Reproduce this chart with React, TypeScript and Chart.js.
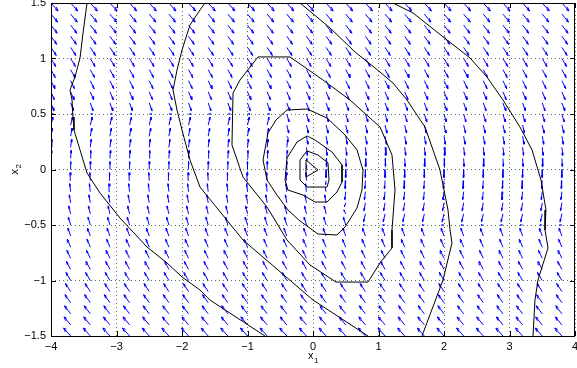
import React, { useEffect, useRef } from "react";
import { Chart, registerables } from "chart.js";

Chart.register(...registerables);

const FONT = '"Liberation Sans", Arial, Helvetica, sans-serif';

// quiver grid
const gridX = [-4, -3.7, -3.4, -3.1, -2.8, -2.5, -2.2, -1.9, -1.6, -1.3, -1, -0.7, -0.4, -0.1, 0.2, 0.5, 0.8, 1.1, 1.4, 1.7, 2, 2.3, 2.6, 2.9, 3.2, 3.5, 3.8];
const gridY = [1.5, 1.4, 1.3, 1.2, 1.1, 1, 0.9, 0.8, 0.7, 0.6, 0.5, 0.4, 0.3, 0.2, 0.1, 0, -0.1, -0.2, -0.3, -0.4, -0.5, -0.6, -0.7, -0.8, -0.9, -1, -1.1, -1.2, -1.3, -1.4, -1.5];
// horizontal component of the arrows, per row
const arrowU = [1.5, 1.4, 1.3, 1.2, 1.1, 1, 0.9, 0.8, 0.7, 0.6, 0.5, 0.4, 0.3, 0.2, 0.1, 0, -0.1, -0.2, -0.3, -0.4, -0.5, -0.6, -0.7, -0.8, -0.9, -1, -1.1, -1.2, -1.3, -1.4, -1.5];
// vertical component codes, one string per row, one char per column
const vCode: Record<string, number> = { D: -1, c: -0.75, d: -0.5, e: -0.25, "0": 0, f: 0.25, u: 0.5, v: 0.75, U: 1 };
const arrowVRows = [
  "DDDDDDDDDDDD DDDD DDDDDDDDDDD",
  "DDDDDDDDDDDD DDDD DDDDDDDDDDD",
  "DDDDDDDDDDDD DDDD DDDDDDDDDDD",
  "DDDDDDDDDDDD DDDD DDDDDDDDDDD",
  "DDDDDDDDDDDD DDDD DDDDDDDDDDD",
  "DDDDDDDDDDDD DDDD DDDDDDDDDDD",
  "DDDDDDDDDDDD DDDD DDDDDDDDDDD",
  "DDDDDDDDDDDD DDDD DDDDDDDDDDD",
  "DDDDDDDDDDDD DDDD DDDDDDDDDDD",
  "DDDDDDDDDDDD DDDD DDDDDDDDDDD",
  "000000000000 DDDD DDDDDDDDDDD",
  "UUUUUUUUUUUU DDDD DDDDDDDDDDD",
  "UUUUUUUUUUUU eDDD DDDDDDDDDDD",
  "UUUUUUUUUUUU UDDD DDDDDDDDDDD",
  "UUUUUUUUUUUU UeDD DDDDDDDDDDD",
  "UUUUUUUUUUUU UuDD DDDDDDDDDDD",
  "UUUUUUUUUUUU UUdD DDDDDDDDDDD",
  "UUUUUUUUUUUU UUuD DDDDDDDDDDD",
  "UUUUUUUUUUUU UUUd DDDDDDDDDDD",
  "UUUUUUUUUUUU UUUu DDDDDDDDDDD",
  "UUUUUUUUUUUU UUUU 00000000000",
  "UUUUUUUUUUUU UUUU UUUUUUUUUUU",
  "UUUUUUUUUUUU UUUU UUUUUUUUUUU",
  "UUUUUUUUUUUU UUUU UUUUUUUUUUU",
  "UUUUUUUUUUUU UUUU UUUUUUUUUUU",
  "UUUUUUUUUUUU UUUU UUUUUUUUUUU",
  "UUUUUUUUUUUU UUUU UUUUUUUUUUU",
  "UUUUUUUUUUUU UUUU UUUUUUUUUUU",
  "UUUUUUUUUUUU UUUU UUUUUUUUUUU",
  "UUUUUUUUUUUU UUUU UUUUUUUUUUU",
  "UUUUUUUUUUUU UUUU UUUUUUUUUUU",
];

// contour lines [x1, x2]
const contour1 = [[-0.107, 0.086], [0.076, -0.005], [-0.107, -0.068], [-0.107, 0.086]];
const contour2 = [[-0.198, 0.086], [-0.092, 0.167], [0.076, 0.131], [0.229, 0.059], [0.244, -0.095], [0.214, -0.158], [-0.092, -0.158], [-0.198, -0.095], [-0.198, 0.086]];
const contour3 = [[-0.244, 0.248], [-0.092, 0.302], [0.031, 0.266], [0.29, 0.158], [0.443, 0.041], [0.443, -0.113], [0.366, -0.203], [0.214, -0.293], [0.031, -0.293], [-0.153, -0.23], [-0.382, -0.185], [-0.427, -0.095], [-0.397, 0.104], [-0.244, 0.248]];
const contour4 = [[-0.397, 0.536], [-0.092, 0.545], [0.214, 0.464], [0.489, 0.311], [0.672, 0.176], [0.763, -0.005], [0.748, -0.185], [0.672, -0.347], [0.489, -0.518], [0.366, -0.59], [0.076, -0.581], [-0.198, -0.464], [-0.382, -0.365], [-0.55, -0.23], [-0.702, -0.095], [-0.763, 0.086], [-0.687, 0.329], [-0.565, 0.446], [-0.397, 0.536]];
const contour5 = [[-0.84, 1.014], [-0.351, 1.014], [0.153, 0.806], [0.565, 0.626], [1.023, 0.383], [1.206, 0.131], [1.252, -0.185], [1.206, -0.545], [1.206, -0.707], [1.023, -0.842], [0.84, -1.014], [0.351, -1.014], [-0.046, -0.86], [-0.397, -0.635], [-0.702, -0.338], [-1.069, -0.068], [-1.237, 0.221], [-1.221, 0.689], [-1.115, 0.806], [-0.84, 1.014]];
const contour6a = [[-1.649, 1.5], [-1.725, 1.437], [-1.878, 1.302], [-2.0, 1.077], [-2.076, 0.896], [-2.137, 0.716], [-2.076, 0.536], [-2.0, 0.356], [-1.878, 0.086], [-1.725, -0.158], [-1.069, -0.635], [-0.534, -0.905], [0, -1.176], [0.84, -1.5]];
const contour6b = [[-0.198, 1.5], [0.26, 1.275], [0.641, 1.059], [1.023, 0.878], [1.221, 0.779], [1.435, 0.626], [1.71, 0.383], [1.939, -0.005], [2.061, -0.365], [2.092, -0.545], [2.122, -0.662], [1.985, -0.995], [1.664, -1.5]];
const contour7a = [[-3.45, 1.5], [-3.511, 1.23], [-3.557, 1.005], [-3.634, 0.833], [-3.71, 0.716], [-3.679, 0.626], [-3.664, 0.473], [-3.649, 0.356], [-3.557, 0.176], [-3.45, -0.032], [-3.252, -0.212], [-2.947, -0.437], [-2.534, -0.698], [-2.229, -0.842], [-2.0, -0.968], [-1.725, -1.086], [-1.573, -1.176], [-0.733, -1.5]];
const contour7b = [[1.221, 1.5], [1.527, 1.41], [2.046, 1.167], [2.397, 1.005], [2.656, 0.833], [2.901, 0.626], [3.16, 0.383], [3.344, 0.176], [3.481, -0.095], [3.557, -0.365], [3.542, -0.545], [3.588, -0.707], [3.435, -0.995], [3.389, -1.176], [3.359, -1.5]];
const contours = [contour1, contour2, contour3, contour4, contour5, contour6a, contour6b, contour7a, contour7b];

// axes
const xTickValues = [-4, -3, -2, -1, 0, 1, 2, 3, 4];
const xTickLabels = ["\u22124", "\u22123", "\u22122", "\u22121", "0", "1", "2", "3", "4"];
const yTickValues = [-1.5, -1, -0.5, 0, 0.5, 1, 1.5];
const yTickLabels = ["\u22121.5", "\u22121", "\u22120.5", "0", "0.5", "1", "1.5"];

const ARROW_SCALE = 0.072;
const HEAD_ALPHA = 0.33;
const HEAD_BETA = 0.33;

function buildQuiver() {
  const shafts: { x: number; y: number }[] = [];
  const heads: { x: number; y: number }[] = [];
  gridY.forEach((y, r) => {
    const row = arrowVRows[r].replace(/ /g, "");
    gridX.forEach((x, c) => {
      const u = arrowU[r] * ARROW_SCALE;
      const v = (vCode[row[c]] ?? 0) * ARROW_SCALE;
      if (u === 0 && v === 0) return;
      const tx = x + u;
      const ty = y + v;
      shafts.push({ x, y }, { x: tx, y: ty }, { x: NaN, y: NaN });
      heads.push(
        { x: tx - HEAD_ALPHA * (u + HEAD_BETA * v), y: ty - HEAD_ALPHA * (v - HEAD_BETA * u) },
        { x: tx, y: ty },
        { x: tx - HEAD_ALPHA * (u - HEAD_BETA * v), y: ty - HEAD_ALPHA * (v + HEAD_BETA * u) },
        { x: NaN, y: NaN }
      );
    });
  });
  return { shafts, heads };
}

const frameTicksPlugin = {
  id: "frameTicks",
  afterDatasetsDraw(chart: any) {
    const { ctx, chartArea } = chart;
    const { left, right, top, bottom } = chartArea;
    const xs = chart.scales.x;
    const ys = chart.scales.y;
    const TL = 5;
    ctx.save();
    ctx.strokeStyle = "#000";
    ctx.lineWidth = 1;
    ctx.beginPath();
    xTickValues.forEach((v) => {
      const px = Math.round(xs.getPixelForValue(v)) + 0.5;
      ctx.moveTo(px, bottom);
      ctx.lineTo(px, bottom - TL);
      ctx.moveTo(px, top);
      ctx.lineTo(px, top + TL);
    });
    yTickValues.forEach((v) => {
      const py = Math.round(ys.getPixelForValue(v)) + 0.5;
      ctx.moveTo(left, py);
      ctx.lineTo(left + TL, py);
      ctx.moveTo(right, py);
      ctx.lineTo(right - TL, py);
    });
    ctx.stroke();
    ctx.strokeRect(Math.round(left) + 0.5, Math.round(top) + 0.5, Math.round(right - left) - 1, Math.round(bottom - top));
    ctx.restore();
  },
  afterDraw(chart: any) {
    const { ctx, chartArea } = chart;
    ctx.save();
    ctx.fillStyle = "#000";
    ctx.textBaseline = "alphabetic";
    ctx.textAlign = "left";
    const cx = (chartArea.left + chartArea.right) / 2;
    ctx.font = `11px ${FONT}`;
    ctx.fillText("x", cx - 5, 359);
    ctx.font = `8px ${FONT}`;
    ctx.fillText("1", cx + 1, 363);
    ctx.translate(18, (chartArea.top + chartArea.bottom) / 2 + 5);
    ctx.rotate(-Math.PI / 2);
    ctx.font = `11px ${FONT}`;
    ctx.fillText("x", 0, 0);
    ctx.font = `8px ${FONT}`;
    ctx.fillText("2", 6, 3);
    ctx.restore();
  },
};

export default function App() {
  const ref = useRef<HTMLCanvasElement>(null);
  useEffect(() => {
    document.body.style.margin = "0";
    const { shafts, heads } = buildQuiver();
    const contourSets = contours.map((c) => ({
      data: c.map(([x, y]) => ({ x, y })),
      showLine: true,
      borderColor: "#000",
      backgroundColor: "#000",
      borderWidth: 1,
      pointRadius: 0,
      tension: 0,
      fill: false,
    }));
    const chart = new Chart(ref.current as HTMLCanvasElement, {
      type: "scatter",
      data: {
        datasets: [
          ...contourSets,
          { data: heads, showLine: true, spanGaps: false, borderColor: "#0000ff", borderWidth: 1, pointRadius: 0, tension: 0 },
          { data: shafts, showLine: true, spanGaps: false, borderColor: "#0000ff", borderWidth: 1, pointRadius: 0, tension: 0 },
        ] as any,
      },
      options: {
        animation: false,
        responsive: false,
        devicePixelRatio: 1,
        events: [],
        layout: { padding: { left: 0, right: 2, top: 3, bottom: 0 } },
        plugins: { legend: { display: false }, tooltip: { enabled: false } },
        scales: {
          x: {
            type: "linear",
            min: -4,
            max: 4,
            afterBuildTicks: (s: any) => {
              s.ticks = xTickValues.map((value) => ({ value }));
            },
            afterFit: (s: any) => {
              s.height = 32;
              s.paddingLeft = 0;
              s.paddingRight = 0;
            },
            ticks: {
              autoSkip: false,
              maxRotation: 0,
              padding: 4,
              color: "#000",
              font: { family: FONT, size: 11 },
              callback: (_v: any, i: number) => xTickLabels[i],
            },
            grid: { drawTicks: false, color: "rgba(0,0,0,0.6)", lineWidth: 1 },
            border: { display: false, dash: [1, 3] },
          },
          y: {
            type: "linear",
            min: -1.5,
            max: 1.5,
            afterBuildTicks: (s: any) => {
              s.ticks = yTickValues.map((value) => ({ value }));
            },
            afterFit: (s: any) => {
              s.width = 51;
              s.paddingTop = 0;
              s.paddingBottom = 0;
            },
            ticks: {
              autoSkip: false,
              padding: 5,
              color: "#000",
              font: { family: FONT, size: 11 },
              callback: (_v: any, i: number) => yTickLabels[i],
            },
            grid: { drawTicks: false, color: "rgba(0,0,0,0.6)", lineWidth: 1 },
            border: { display: false, dash: [1, 3] },
          },
        },
      },
      plugins: [frameTicksPlugin],
    });
    return () => chart.destroy();
  }, []);
  return (
    <div style={{ width: 577, height: 368 }}>
      <canvas ref={ref} width={577} height={368} style={{ display: "block" }} />
    </div>
  );
}
